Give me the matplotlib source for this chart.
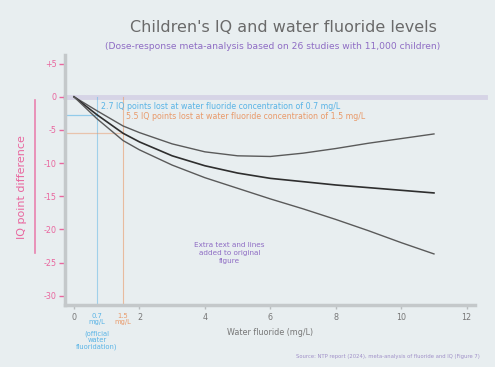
import numpy as np
import matplotlib.pyplot as plt
from matplotlib.lines import Line2D

# dose-response curve (point estimate) and its confidence bounds
fluoride = [0, 0.7, 1.5, 2, 3, 4, 5, 6, 7, 8, 9, 10, 11]
iq_mean = [0, -2.7, -5.5, -6.8, -8.9, -10.4, -11.5, -12.3, -12.8, -13.3, -13.7, -14.1, -14.5]
iq_upper = [0, -2.1, -4.4, -5.4, -7.1, -8.3, -8.9, -9.0, -8.5, -7.8, -7.0, -6.3, -5.6]
iq_lower = [0, -3.3, -6.6, -8.0, -10.3, -12.2, -13.8, -15.4, -16.9, -18.5, -20.2, -22.0, -23.7]

yticks = [5, 0, -5, -10, -15, -20, -25, -30]
ytick_labels = ["+5", "0", "-5", "-10", "-15", "-20", "-25", "-30"]
xticks = [0, 2, 4, 6, 8, 10, 12]

official_dose, official_loss = 0.7, -2.7
high_dose, high_loss = 1.5, -5.5

bg = "#e8eef0"
pink = "#e8669e"
blue = "#5ab4e6"
orange = "#e89a6a"
purple = "#8e6cc4"
grey = "#777777"

fig = plt.figure(figsize=(4.95, 3.67), dpi=100, facecolor=bg)
ax = fig.add_axes([0.131, 0.169, 0.829, 0.681], facecolor=bg)

ax.set_xlim(-0.28, 12.26)
ax.set_ylim(-31.4, 6.3)

# zero reference band
ax.axhline(0, xmin=0, xmax=1.025, color="#d6d4e6", lw=3.5, clip_on=False, zorder=1)

ax.plot(fluoride, iq_upper, color="#5a5a5a", lw=1.0, zorder=3)
ax.plot(fluoride, iq_mean, color="#2e2e2e", lw=1.2, zorder=3)
ax.plot(fluoride, iq_lower, color="#5a5a5a", lw=1.0, zorder=3)

# guide lines for the two concentrations
ax.plot([official_dose, official_dose], [-31.4, 0], color=blue, lw=0.8, alpha=0.5, zorder=2)
ax.plot([-0.28, official_dose], [official_loss, official_loss], color=blue, lw=0.9, alpha=0.6, zorder=2)
ax.plot([high_dose, high_dose], [-31.4, 0], color=orange, lw=0.8, alpha=0.6, zorder=2)
ax.plot([-0.28, high_dose], [high_loss, high_loss], color=orange, lw=0.9, alpha=0.5, zorder=2)

ax.text(official_dose + 0.12, -1.4, "2.7 IQ points lost at water fluoride concentration of 0.7 mg/L",
        color=blue, fontsize=5.7, va="center", ha="left")
ax.text(high_dose + 0.08, -3.0, "5.5 IQ points lost at water fluoride concentration of 1.5 mg/L",
        color=orange, fontsize=5.7, va="center", ha="left")

ax.text(4.75, -23.5, "Extra text and lines\nadded to original\nfigure", color=purple,
        fontsize=5.2, ha="center", va="center", linespacing=1.4)

for s in ["top", "right"]:
    ax.spines[s].set_visible(False)
for s in ["left", "bottom"]:
    ax.spines[s].set_color("#c4c8ca")
    ax.spines[s].set_linewidth(2.5)

ax.set_yticks(yticks)
ax.set_yticklabels(ytick_labels, color=pink, fontsize=5.8)
ax.tick_params(axis="y", colors=pink, length=4, width=1.0, pad=2)
ax.set_xticks(xticks)
ax.set_xticklabels([str(t) for t in xticks], color=grey, fontsize=5.8)
ax.tick_params(axis="x", colors="#b8bcbe", labelcolor=grey, length=3, width=1.0, pad=3)

ax.text(official_dose, -32.6, "0.7\nmg/L", color=blue, fontsize=4.9, ha="center", va="top",
        linespacing=1.1)
ax.text(official_dose, -35.2, "(official\nwater\nfluoridation)", color=blue, fontsize=4.9,
        ha="center", va="top", linespacing=1.1)
ax.text(high_dose, -32.6, "1.5\nmg/L", color=orange, fontsize=4.9, ha="center", va="top",
        linespacing=1.1)

ax.set_xlabel("Water fluoride (mg/L)", color=grey, fontsize=5.8, labelpad=4)

fig.text(0.045, 0.49, "IQ point difference", color=pink, fontsize=8, rotation=90,
         ha="center", va="center")
fig.add_artist(Line2D([0.071, 0.071], [0.31, 0.727], color=pink, lw=1.2, alpha=0.8))

fig.text(0.572, 0.925, "Children's IQ and water fluoride levels", color="#6a6a6a",
         fontsize=11.5, ha="center", va="center")
fig.text(0.55, 0.874, "(Dose-response meta-analysis based on 26 studies with 11,000 children)",
         color=purple, fontsize=6.6, ha="center", va="center")
fig.text(0.97, 0.028, "Source: NTP report (2024), meta-analysis of fluoride and IQ (Figure 7)",
         color="#a090c8", fontsize=3.8, ha="right", va="center")

fig.savefig("out.png", dpi=100, facecolor=bg)
